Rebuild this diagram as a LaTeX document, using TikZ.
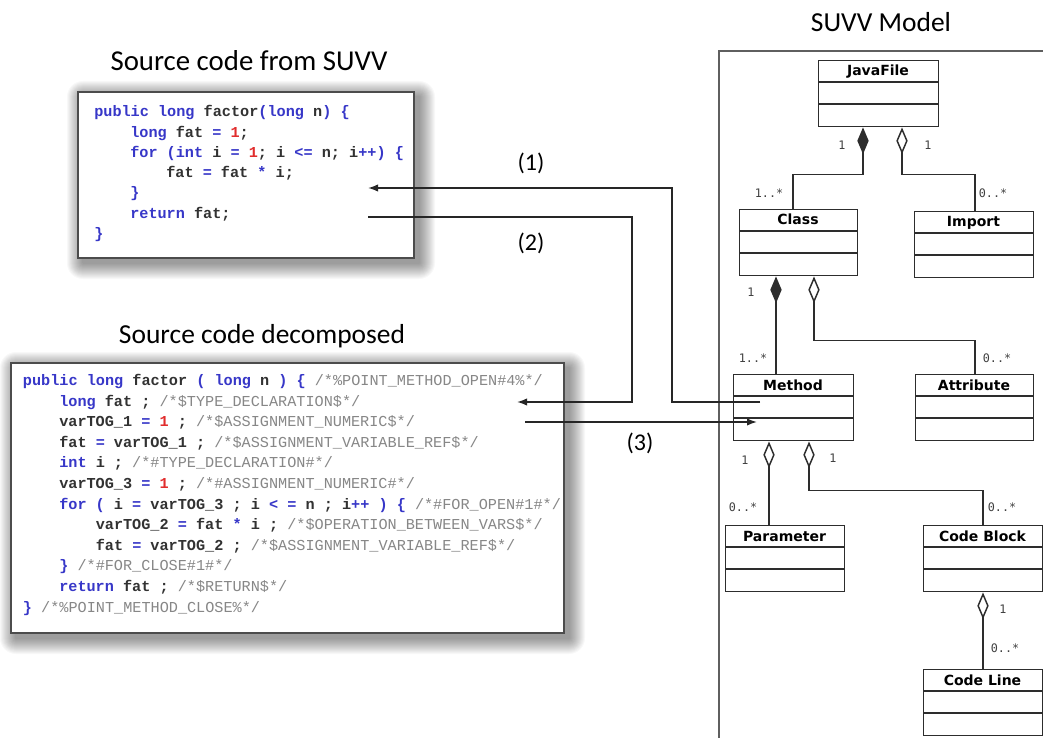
\documentclass[tikz,border=0pt]{standalone}
\usepackage{fontspec}
\setmonofont{Liberation Mono}
\newfontfamily\titlefont{Carlito}
\newfontfamily\umlfont{DejaVu Sans}
\newfontfamily\multfont{DejaVu Sans Mono}
\usetikzlibrary{arrows.meta}

\definecolor{kwblue}{RGB}{55,55,200}
\definecolor{numred}{RGB}{225,45,45}
\definecolor{codedark}{RGB}{50,50,50}
\definecolor{cmgray}{RGB}{135,135,135}
\definecolor{umlgray}{RGB}{45,45,45}
\definecolor{panelgray}{RGB}{95,95,95}

% token colouring for the code listings
\newcommand\kw[1]{\textcolor{kwblue}{#1}}
\newcommand\nm[1]{\textcolor{numred}{#1}}
\newcommand\cm[1]{\textcolor{cmgray}{\mdseries #1}}

\tikzset{
  title/.style={font=\titlefont\fontsize{20.6pt}{24pt}\selectfont, text=black, inner sep=0, anchor=base},
  steplabel/.style={font=\titlefont\fontsize{18pt}{21pt}\selectfont, text=black, inner sep=0},
  code/.style={font=\ttfamily\bfseries\fontsize{11.4pt}{13pt}\selectfont, text=codedark, inner sep=0, anchor=base west},
  codebox/.style={draw=black!70, line width=1.4pt, fill=white, inner sep=0, anchor=north west},
  flow/.style={draw=black!85, line width=1.1pt, -{Latex[length=7.5pt,width=5.5pt]}},
  umlbox/.style={draw=umlgray, line width=1.1pt, fill=white, inner sep=0, anchor=north west},
  umlline/.style={draw=umlgray, line width=1.1pt},
  umlname/.style={font=\umlfont\bfseries\fontsize{10.5pt}{12pt}\selectfont, text=black, inner sep=0, anchor=base},
  mult/.style={font=\multfont\fontsize{8.8pt}{10pt}\selectfont, text=black!75, inner sep=0},
  comp/.style={umlline, {Diamond[length=20pt,width=8.5pt]}-},
  aggr/.style={umlline, {Diamond[open,length=20pt,width=8.5pt,fill=white]}-},
}

% soft drop shadow behind a box given by left, top, right, bottom (px)
\newcommand\softshadow[4]{%
  \foreach \r in {1,...,16}{%
    \fill[black, opacity=0.028, rounded corners=\r*0.75pt]
      ({#1+6-\r},{#2+6-\r}) rectangle ({#3+6+\r},{#4+6+\r});
  }%
}

% UML class with name and two empty compartments: node name, label, left, top, width
\newcommand\umlclass[5]{%
  \node[umlbox, minimum width={#5*0.75pt}, minimum height={66*0.75pt}] (#1) at (#3,#4) {};
  \draw[umlline] (#3,{#4+22}) -- ({#3+#5},{#4+22}) (#3,{#4+44}) -- ({#3+#5},{#4+44});
  \node[umlname] (#1-name) at ({#3+#5/2},{#4+16}) {#2};
}

\begin{document}
\begin{tikzpicture}[x=0.75pt,y=-0.75pt]
\useasboundingbox (0,0) rectangle (1043,738);
\fill[white] (0,0) rectangle (1043,738);

% ---------- titles ----------
\node[title, font=\titlefont\fontsize{21.6pt}{25pt}\selectfont] (t-src) at (249,71) {Source code from SUVV};
\node[title] (t-dec) at (262,343) {Source code decomposed};
\node[title] (t-mod) at (881,32) {SUVV Model};

% ---------- original source ----------
\softshadow{77}{91}{413}{257}
\node[codebox, minimum width={336*0.75pt}, minimum height={166*0.75pt}] (src) at (77,91) {};
\node[code] (s1) at (94,116.8)  {\kw{public long} factor\kw{(long} n\kw{) \{}};
\node[code] (s2) at (130,137.1) {\kw{long} fat \kw{=} \nm{1};};
\node[code] (s3) at (130,157.4) {\kw{for (int} i \kw{=} \nm{1}; i \kw{<=} n; i\kw{++) \{}};
\node[code] (s4) at (166,177.7) {fat \kw{=} fat \kw{*} i;};
\node[code] (s5) at (130,198.0) {\kw{\}}};
\node[code] (s6) at (130,218.3) {\kw{return} fat;};
\node[code] (s7) at (94,238.6)  {\kw{\}}};

% ---------- decomposed source ----------
\softshadow{10}{362}{563}{632}
\node[codebox, minimum width={553*0.75pt}, minimum height={270*0.75pt}] (dec) at (10,362) {};
\node[code] (d1)  at (22.7,385.5) {\kw{public long} factor \kw{( long} n \kw{) \{} \cm{/*\%POINT\_METHOD\_OPEN\#4\%*/}};
\node[code] (d2)  at (59,406.1)   {\kw{long} fat ; \cm{/*\$TYPE\_DECLARATION\$*/}};
\node[code] (d3)  at (59,426.7)   {varTOG\_1 \kw{=} \nm{1} ; \cm{/*\$ASSIGNMENT\_NUMERIC\$*/}};
\node[code] (d4)  at (59,447.3)   {fat \kw{=} varTOG\_1 ; \cm{/*\$ASSIGNMENT\_VARIABLE\_REF\$*/}};
\node[code] (d5)  at (59,467.9)   {\kw{int} i ; \cm{/*\#TYPE\_DECLARATION\#*/}};
\node[code] (d6)  at (59,488.5)   {varTOG\_3 \kw{=} \nm{1} ; \cm{/*\#ASSIGNMENT\_NUMERIC\#*/}};
\node[code] (d7)  at (59,509.1)   {\kw{for (} i \kw{=} varTOG\_3 ; i \kw{< =} n ; i\kw{++ ) \{} \cm{/*\#FOR\_OPEN\#1\#*/}};
\node[code] (d8)  at (95.5,529.7) {varTOG\_2 \kw{=} fat \kw{*} i ; \cm{/*\$OPERATION\_BETWEEN\_VARS\$*/}};
\node[code] (d9)  at (95.5,550.3) {fat \kw{=} varTOG\_2 ; \cm{/*\$ASSIGNMENT\_VARIABLE\_REF\$*/}};
\node[code] (d10) at (59,570.9)   {\kw{\}} \cm{/*\#FOR\_CLOSE\#1\#*/}};
\node[code] (d11) at (59,591.5)   {\kw{return} fat ; \cm{/*\$RETURN\$*/}};
\node[code] (d12) at (22.7,612.1) {\kw{\}} \cm{/*\%POINT\_METHOD\_CLOSE\%*/}};

% ---------- model panel ----------
\draw[draw=panelgray, line width=1.4pt] (1043,51) -- (719,51) -- (719,738);

\umlclass{javafile}{JavaFile}{818}{60}{120}
\umlclass{class}{Class}{739}{209}{118}
\umlclass{import}{Import}{914}{211}{119}
\umlclass{method}{Method}{733}{374}{120}
\umlclass{attribute}{Attribute}{915}{374}{118}
\umlclass{parameter}{Parameter}{725}{525}{119}
\umlclass{cblock}{Code Block}{923}{525}{119}
\umlclass{cline}{Code Line}{923}{669}{119}

% associations
\draw[comp] (javafile.south -| 863,0) -- ++(0,47) -| (class.north -| 793,0);
\draw[aggr] (javafile.south -| 902,0) -- ++(0,47) -| (import.north -| 975,0);
\draw[comp] (class.south -| 776,0) -- (method.north -| 776,0);
\draw[aggr] (class.south -| 814,0) -- ++(0,64) -| (attribute.north -| 975,0);
\draw[aggr] (method.south -| 769,0) -- (parameter.north -| 769,0);
\draw[aggr] (method.south -| 809,0) -- ++(0,49) -| (cblock.north -| 983,0);
\draw[aggr] (cblock.south -| 983,0) -- (cline.north -| 983,0);

% multiplicities
\node[mult] (m1)  at (842,145) {1};
\node[mult] (m2)  at (928,145) {1};
\node[mult] (m3)  at (769,193) {1..*};
\node[mult] (m4)  at (993,193) {0..*};
\node[mult] (m5)  at (751,292) {1};
\node[mult] (m6)  at (753,358) {1..*};
\node[mult] (m7)  at (997,358) {0..*};
\node[mult] (m8)  at (745,460) {1};
\node[mult] (m9)  at (833,458) {1};
\node[mult] (m10) at (743,507) {0..*};
\node[mult] (m11) at (1002,507) {0..*};
\node[mult] (m12) at (1003,609) {1};
\node[mult] (m13) at (1005,648) {0..*};

% ---------- transformation flow ----------
\coordinate (src-in)  at (368,188);
\coordinate (src-out) at (368,217);
\coordinate (dec-in)  at (517,402);
\coordinate (dec-out) at (525,422);
\coordinate (met-out) at (760,402);
\coordinate (met-in)  at (757,422);

\draw[flow] (met-out) -- (met-out -| 672,0) |- (src-in);
\draw[flow] (src-out) -- (src-out -| 632,0) |- (dec-in);
\draw[flow] (dec-out) -- (met-in);

\node[steplabel] (l1) at (531,163) {(1)};
\node[steplabel] (l2) at (531,243) {(2)};
\node[steplabel] (l3) at (640,443) {(3)};
\end{tikzpicture}
\end{document}
